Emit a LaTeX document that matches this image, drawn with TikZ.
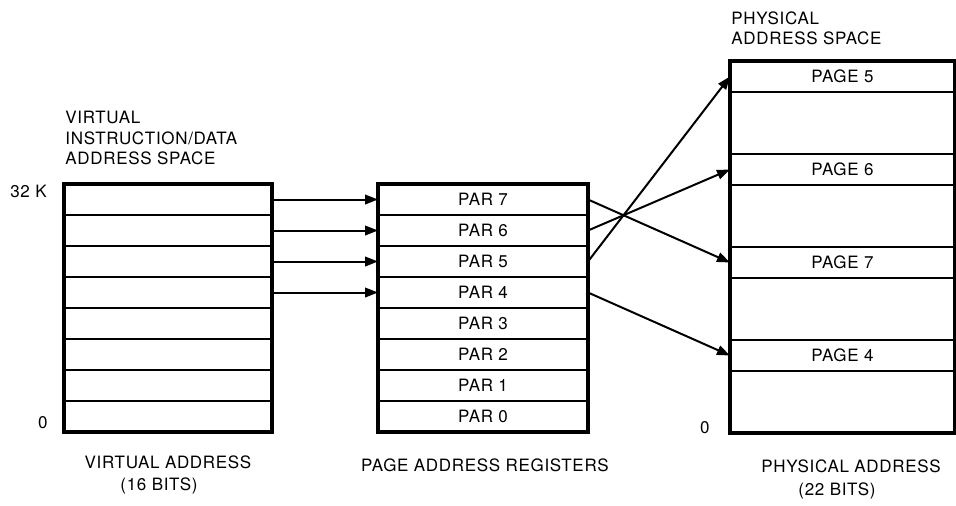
\documentclass[tikz,border=0pt]{standalone}
\usepackage{fontspec}
\setmainfont{TeX Gyre Heros}[LetterSpace=4]
\usetikzlibrary{positioning, arrows.meta}
\tikzstyle{diagram} = [x = 0.5pt, y = -0.5pt, font = \fontsize{8.5}{10.25}\selectfont]
\tikzstyle{rowStyle} = [draw, line width = 1pt, inner sep = 0pt, outer sep = 0pt, minimum height = 15.5pt, anchor = north west]
\tikzstyle{frameStyle} = [draw, line width = 1.6pt]
\tikzstyle{mapArrow} = [line width = 1pt, -{Triangle[length = 6.5pt, width = 4.8pt]}]
\tikzstyle{labelText} = [inner sep = 0pt, anchor = base]
\tikzstyle{headText} = [inner sep = 0pt, anchor = north west, align = left]
\begin{document}
\begin{tikzpicture}[diagram]
  \useasboundingbox (0,0) rectangle (956,505);

  \foreach \row in {1,...,8} {
    \node [rowStyle, minimum width = 104pt] (virtual\row) at (64, {184 + 31 * (\row - 1)}) {};
  }
  \draw [frameStyle] (virtual1.north west) rectangle (virtual8.south east);

  \foreach \reg [count = \row from 0] in {7,...,0} {
    \node [rowStyle, minimum width = 105pt] (par\reg) at (378, {184 + 31 * \row}) {PAR \reg};
  }
  \draw [frameStyle] (par7.north west) rectangle (par0.south east);

  \node [frameStyle, inner sep = 0pt, outer sep = 0pt, minimum width = 112.5pt, minimum height = 186pt, anchor = north west] (physical) at (730, 61) {};
  \foreach \page/\row in {5/0, 6/3, 7/6, 4/9} {
    \node [rowStyle, minimum width = 112.5pt] (page\page) at (730, {61 + 31 * \row}) {PAGE \page};
  }

  \foreach \row/\reg in {1/7, 2/6, 3/5, 4/4} {
    \draw [mapArrow] (virtual\row.east) -- (par\reg.west);
  }
  \foreach \reg in {4,...,7} {
    \draw [mapArrow] (par\reg.east) -- (page\reg.west);
  }

  \node [headText] (virtualHead) at (65, 111) {VIRTUAL\\INSTRUCTION/DATA\\ADDRESS SPACE};
  \node [headText] (physicalHead) at (731, 11) {PHYSICAL\\ADDRESS SPACE};
  \node [labelText, anchor = base east] (virtualTop) at (47, 197) {32 K};
  \node [labelText, anchor = base east] (virtualZero) at (48, 428) {0};
  \node [labelText, anchor = base east] (physicalZero) at (710, 433) {0};
  \node [labelText] (virtualName) at (168, 468) {VIRTUAL ADDRESS};
  \node [labelText] (virtualBits) at (159, 490) {(16 BITS)};
  \node [labelText] (parName) at (485, 471) {PAGE ADDRESS REGISTERS};
  \node [labelText] (physicalName) at (851, 472) {PHYSICAL ADDRESS};
  \node [labelText] (physicalBits) at (837, 495) {(22 BITS)};
\end{tikzpicture}
\end{document}
